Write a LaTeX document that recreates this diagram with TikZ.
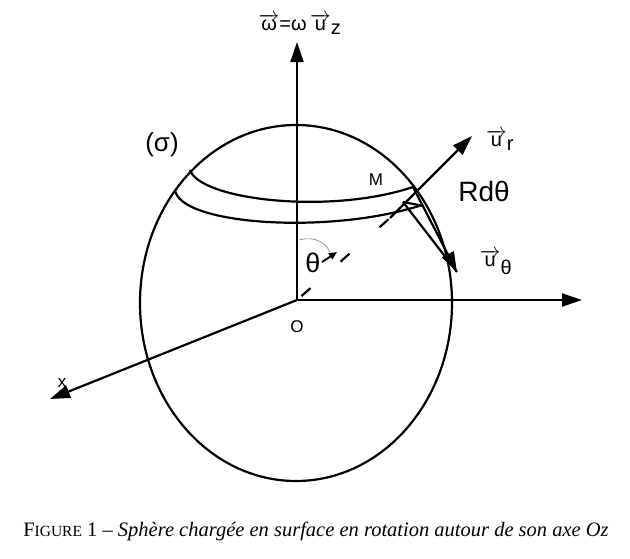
\documentclass[tikz,border=0pt]{standalone}
\usepackage{fontspec}
\setmainfont{Liberation Sans}
\newfontfamily\capfont{Liberation Serif}
\usetikzlibrary{arrows.meta}
\newcommand{\vv}[1]{$\overrightarrow{\hbox{#1}}$}
\begin{document}
\begin{tikzpicture}[x=1pt,y=-1pt,line width=2.2pt,
  ax/.style={-{Triangle[length=20pt,width=13pt]}},
  lbl/.style={font=\fontsize{20}{22}\selectfont}]
\useasboundingbox (0,0) rectangle (630,558);
\coordinate (O) at (297,300);
\coordinate (Z) at (297,42);
\coordinate (Y) at (582,300);
\coordinate (X) at (50,399);
\coordinate (M) at (413,187);
\coordinate (R1) at (390,218);
\coordinate (UR) at (472,136);
\coordinate (UT) at (457,272);
\draw (296,303) ellipse [x radius=156, y radius=178];
\draw[ax] (O) -- (Z);
\draw[ax] (O) -- (Y);
\draw[ax] (O) -- (X);
% cap bands
\draw (190,170) .. controls (200,200) and (330,215) .. (M);
\draw (175,190) .. controls (180,225) and (330,235) .. (422,205);
\draw[dash pattern=on 12pt off 40pt,dash phase=-6pt] (O) -- (R1);
\draw[ax] (R1) -- (UR);
\draw[ax] (M) -- (UT);
\draw (403,202) -- (UT);
\draw (403,202) -- (424,206);
\draw[line width=0.6pt,gray] (299,240) .. controls (315,236) and (325,242) .. (330,252);
\draw[-{Triangle[length=8pt,width=7pt]},line width=1.8pt] (322,262) -- (337,252);
\node[font=\fontsize{26}{28}\selectfont] (sig) at (162,145) {(σ)};
\node[font=\fontsize{17}{19}\selectfont] (Ml) at (376,180) {M};
\node[font=\fontsize{28}{30}\selectfont] (Rd) at (484,191) {Rdθ};
\node[lbl] (ur) at (500,140) {\vv{u}$_{\hbox{r}}$};
\node[lbl] (ut) at (496,262) {\vv{u}$_{\hbox{θ}}$};
\node[font=\fontsize{27}{29}\selectfont] (th) at (313,263) {θ};
\node[font=\fontsize{17}{19}\selectfont] (Ol) at (297,327) {O};
\node[font=\fontsize{17}{19}\selectfont] (xl) at (62,383) {x};
\node[lbl] (om) at (300,24) {\vv{ω}=ω\,\vv{u}$_{\hbox{z}}$};
\node[font=\capfont\fontsize{20.5}{22}\selectfont] (cap) at (316,531) {F{\fontsize{15.5}{17}\selectfont IGURE} 1 – \textit{Sphère chargée en surface en rotation autour de son axe Oz}};
\end{tikzpicture}
\end{document}
